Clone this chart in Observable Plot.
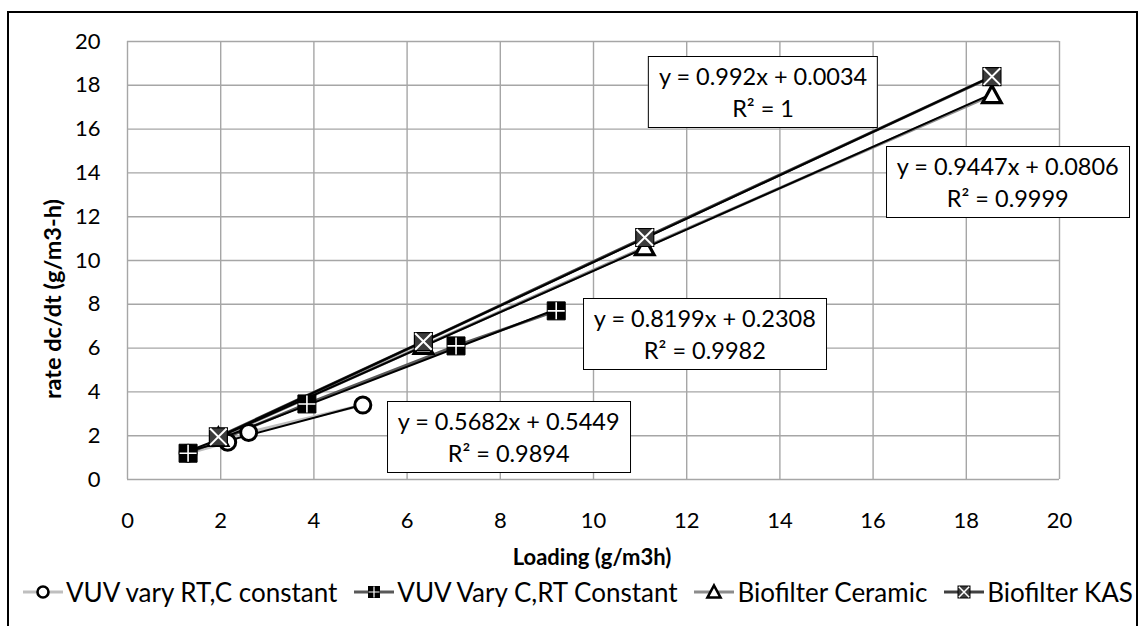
<!DOCTYPE html>
<html><head><meta charset="utf-8">
<script src="https://cdn.jsdelivr.net/npm/d3@7"></script>
<script src="https://cdn.jsdelivr.net/npm/@observablehq/plot@0.6"></script>
<style>
html,body{margin:0;padding:0;background:#fff;overflow:hidden;}
#wrap{position:relative;width:1144px;height:626px;font-family:Lato,sans-serif;color:#000;overflow:hidden;}
#border{position:absolute;left:7px;top:11px;width:1131px;height:700px;border:2.5px solid #000;box-sizing:border-box;}
#chart{position:absolute;left:0;top:0;}
.tbox{position:absolute;width:max-content;background:#fff;border:1.6px solid #000;transform:translate(-50%,-50%);text-align:center;font-size:23.5px;line-height:32px;padding:3px 10px;white-space:nowrap;}
.title{position:absolute;font-weight:bold;font-size:22px;white-space:nowrap;width:max-content;}
#xtitle{left:592px;top:556px;transform:translate(-50%,-50%);}
#ytitle{left:52px;top:299px;font-size:23.5px;transform:translate(-50%,-50%) rotate(-90deg);}
#legend{position:absolute;left:23px;width:1110px;top:592px;transform:translateY(-50%);display:flex;justify-content:space-between;align-items:center;font-size:26px;white-space:nowrap;}
#legend .item{display:flex;align-items:center;gap:3px;}
</style></head>
<body>
<div id="wrap">
  <div id="border"></div>
  <div id="chart"></div>
  <div class="title" id="xtitle"></div>
  <div class="title" id="ytitle"></div>
  <div id="legend"></div>
</div>
<script>
// ---- data ----
const xTicks = [0, 2, 4, 6, 8, 10, 12, 14, 16, 18, 20];
const yTicks = [0, 2, 4, 6, 8, 10, 12, 14, 16, 18, 20];
const xTitle = "Loading (g/m3h)";
const yTitle = "rate dc/dt (g/m3-h)";
const seriesNames = ["VUV vary RT,C constant", "VUV Vary C,RT Constant", "Biofilter Ceramic", "Biofilter KAS"];
const vuvRtX = [1.3, 2.15, 2.6, 5.05];
const vuvRtY = [1.2, 1.7, 2.15, 3.4];
const vuvCX = [1.3, 3.85, 7.05, 9.2];
const vuvCY = [1.2, 3.45, 6.1, 7.7];
const ceramicX = [1.95, 6.35, 11.1, 18.55];
const ceramicY = [1.9, 6.1, 10.6, 17.55];
const kasX = [1.95, 6.35, 11.1, 18.55];
const kasY = [1.95, 6.3, 11.05, 18.4];
const trendSlopes = [0.5682, 0.8199, 0.9447, 0.992];
const trendIntercepts = [0.5449, 0.2308, 0.0806, 0.0034];
const trendR2 = ["0.9894", "0.9982", "0.9999", "1"];

// ---- layout / style config ----
const labelPos = [[8.19, 1.92], [12.4, 6.64], [18.9, 13.55], [13.65, 17.65]]; // box centres in data units
const lineColors = ["#bfbfbf", "#595959", "#8c8c8c", "#404040"];

const seriesX = [vuvRtX, vuvCX, ceramicX, kasX];
const seriesY = [vuvRtY, vuvCY, ceramicY, kasY];
const points = seriesX.map((xs, i) => xs.map((x, j) => ({series: i, x, y: seriesY[i][j]})));
const trends = seriesX.map((xs, i) => {
  const lo = d3.min(xs), hi = d3.max(xs);
  return [lo, hi].map(x => ({series: i, x, y: trendSlopes[i] * x + trendIntercepts[i]}));
});

const sym = fn => ({draw(c, size) { const r = Math.sqrt(size / Math.PI); fn(c, r); }});
const squareSym = sym((c, r) => { c.moveTo(-r, -r); c.lineTo(r, -r); c.lineTo(r, r); c.lineTo(-r, r); c.closePath(); });
const plusSym = sym((c, r) => { c.moveTo(-r, 0); c.lineTo(r, 0); c.moveTo(0, -r); c.lineTo(0, r); });
const xSym = sym((c, r) => { c.moveTo(-r, -r); c.lineTo(r, r); c.moveTo(r, -r); c.lineTo(-r, r); });
const triSym = sym((c, r) => { c.moveTo(0, -r); c.lineTo(r * 0.98, r * 0.78); c.lineTo(-r * 0.98, r * 0.78); c.closePath(); });

const marks = [
  Plot.gridX(xTicks, {stroke: "#a6a6a6", strokeOpacity: 1, strokeWidth: 1.4}),
  Plot.gridY(yTicks, {stroke: "#a6a6a6", strokeOpacity: 1, strokeWidth: 1.4}),
  Plot.axisX(xTicks, {tickSize: 0, tickPadding: 33, fontSize: 22, label: null}),
  Plot.axisY(yTicks, {tickSize: 0, tickPadding: 27, fontSize: 22, label: null})
];
points.forEach((pts, i) => marks.push(Plot.line(pts, {x: "x", y: "y", stroke: lineColors[i], strokeWidth: 3})));
trends.forEach(t => marks.push(Plot.line(t, {x: "x", y: "y", stroke: "#000", strokeWidth: 2})));
// markers, series order
marks.push(Plot.dot(points[0], {x: "x", y: "y", r: 8, fill: "#fff", stroke: "#000", strokeWidth: 3}));
marks.push(Plot.dot(points[1], {x: "x", y: "y", r: 9, symbol: squareSym, fill: "#000", stroke: "#000", strokeWidth: 1}));
marks.push(Plot.dot(points[1], {x: "x", y: "y", r: 8.5, symbol: plusSym, fill: "none", stroke: "#fff", strokeWidth: 1.6}));
marks.push(Plot.dot(points[2], {x: "x", y: "y", r: 9.5, symbol: triSym, fill: "#fff", stroke: "#000", strokeWidth: 3.2}));
marks.push(Plot.dot(points[3], {x: "x", y: "y", r: 9, symbol: squareSym, fill: "#3c3c3c", stroke: "#000", strokeWidth: 1.2}));
marks.push(Plot.dot(points[3], {x: "x", y: "y", r: 8.3, symbol: xSym, fill: "none", stroke: "#fff", strokeWidth: 2}));

const chart = Plot.plot({
  width: 1144, height: 575,
  marginTop: 41, marginLeft: 127, marginRight: 85, marginBottom: 96,
  style: {fontFamily: "Lato, sans-serif", fontSize: "22px", color: "#000", background: "transparent"},
  x: {domain: [0, 20]},
  y: {domain: [0, 20]},
  marks
});
document.getElementById("chart").append(chart);

document.getElementById("xtitle").textContent = xTitle;
document.getElementById("ytitle").textContent = yTitle;

const sx = chart.scale("x"), sy = chart.scale("y");
const wrap = document.getElementById("wrap");
labelPos.forEach(([lx, ly], i) => {
  const d = document.createElement("div");
  d.className = "tbox";
  d.style.left = sx.apply(lx) + "px";
  d.style.top = sy.apply(ly) + "px";
  d.innerHTML = `y = ${trendSlopes[i]}x + ${trendIntercepts[i]}<br>R² = ${trendR2[i]}`;
  wrap.append(d);
});

const swatchMarker = [
  `<circle cx="20" cy="10" r="5.5" fill="#fff" stroke="#000" stroke-width="2.6"/>`,
  `<rect x="14" y="4" width="12" height="12" fill="#000"/><path d="M14.5 10H25.5M20 4.5V15.5" stroke="#fff" stroke-width="1.2"/>`,
  `<path d="M20 3.5L26.5 15.5H13.5Z" fill="#fff" stroke="#000" stroke-width="2.6"/>`,
  `<rect x="14" y="4" width="12" height="12" fill="#3c3c3c" stroke="#000" stroke-width="1"/><path d="M14.8 4.8L25.2 15.2M25.2 4.8L14.8 15.2" stroke="#fff" stroke-width="1.5"/>`
];
const legend = document.getElementById("legend");
seriesNames.forEach((name, i) => {
  const it = document.createElement("div");
  it.className = "item";
  it.innerHTML = `<svg width="40" height="20"><line x1="0" x2="40" y1="10" y2="10" stroke="${lineColors[i]}" stroke-width="3"/>${swatchMarker[i]}</svg><span>${name}</span>`;
  legend.append(it);
});
</script>
</body></html>
